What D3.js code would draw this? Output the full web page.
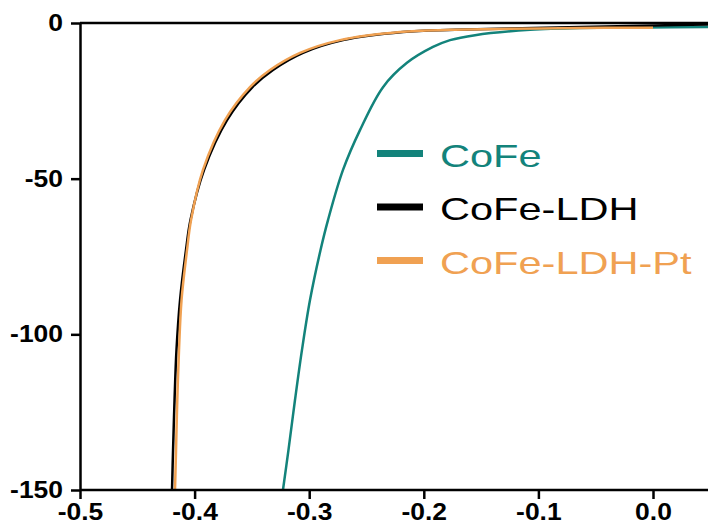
<!DOCTYPE html>
<meta charset="utf-8">
<style>
    body { margin: 0; background: #fff; }
    .axis path, .axis line { stroke: #000; stroke-width: 2.5px; }
    .axis text { font: bold 23px "Liberation Sans", Arial, sans-serif; fill: #000; }
    .line { fill: none; stroke-width: 2.5px; }
    .legend text { font: 31px "Liberation Sans", Arial, sans-serif; }
</style>
<svg width="708" height="530"></svg>
<script src="https://cdn.jsdelivr.net/npm/d3@7/dist/d3.min.js"></script>
<script>

    // potential (V) and current density
    var cofeV = [-0.3229, -0.3181, -0.3124, -0.3063, -0.2993, -0.2901, -0.2836, -0.2705, -0.2557, -0.2356, -0.2147, -0.1920, -0.1771, -0.1553, -0.1073, -0.0637, -0.0052, 0.048];
    var cofeJ = [-150, -137.2, -121.1, -105, -89, -72.9, -63.3, -47.2, -34.4, -20.6, -12.8, -7.7, -5.5, -3.9, -2.2, -1.6, -1.45, -1.3];

    var ldhV = [-0.4197, -0.4188, -0.4175, -0.4158, -0.4127, -0.4075, -0.4036, -0.3918, -0.3717, -0.3495, -0.3316, -0.3054, -0.2705, -0.2182, -0.1728, -0.0637, 0.0017, 0.048];
    var ldhJ = [-150, -137.2, -121.1, -105, -89, -72.9, -63.3, -47.2, -31.2, -20.6, -15.1, -9.6, -5.5, -2.9, -2.2, -1.3, -0.8, -0.5];

    var ptV = [-0.4171, -0.4162, -0.4151, -0.4136, -0.4114, -0.4066, -0.4031, -0.3927, -0.3735, -0.3517, -0.3342, -0.3080, -0.2731, -0.2208, -0.1771, -0.0637, 0.0];
    var ptJ = [-150, -137.2, -121.1, -105, -89, -72.9, -63.3, -47.2, -31.2, -20.6, -15.1, -9.6, -5.5, -2.9, -2.2, -1.6, -1.5];

    var seriesNames = ["CoFe", "CoFe-LDH", "CoFe-LDH-Pt"];
    var seriesColors = ["#13837b", "#000000", "#f0a152"];

    var xTicks = [-0.5, -0.4, -0.3, -0.2, -0.1, 0.0];
    var xMinor = [-0.45, -0.35, -0.25, -0.15, -0.05];
    var yTicks = [0, -50, -100, -150];
    var yMinor = [-25, -75, -125];

    var svg = d3.select("svg"),
        stretch = 1.15;

    var x = d3.scaleLinear().domain([-0.5, 0.0]).range([80, 653]),
        y = d3.scaleLinear().domain([-150, 0]).range([490, 23]);

    var series = [
        {name: seriesNames[0], color: seriesColors[0], values: cofeV.map(function(v, i) { return {v: v, j: cofeJ[i]}; })},
        {name: seriesNames[1], color: seriesColors[1], values: ldhV.map(function(v, i) { return {v: v, j: ldhJ[i]}; })},
        {name: seriesNames[2], color: seriesColors[2], values: ptV.map(function(v, i) { return {v: v, j: ptJ[i]}; })}
    ];

    svg.append("clipPath").attr("id", "plot")
        .append("rect").attr("x", 80).attr("y", 23).attr("width", 628).attr("height", 467);

    var line = d3.line()
        .curve(d3.curveCatmullRom.alpha(0.5))
        .x(function(d) { return x(d.v); })
        .y(function(d) { return y(d.j); });

    svg.append("g").attr("clip-path", "url(#plot)")
        .selectAll("path")
        .data(series)
        .enter().append("path")
        .attr("class", "line")
        .attr("d", function(d) { return line(d.values); })
        .style("stroke", function(d) { return d.color; });

    // frame top
    svg.append("line")
        .attr("x1", 80).attr("x2", 708)
        .attr("y1", y(0)).attr("y2", y(0))
        .attr("stroke", "#000").attr("stroke-width", 2.5);

    // x axis
    var gx = svg.append("g")
        .attr("class", "axis")
        .attr("transform", "translate(0," + y(-150) + ")");
    gx.call(d3.axisBottom(x).tickValues(xMinor).tickSize(6).tickFormat(""));
    gx.call(d3.axisBottom(x).tickValues(xTicks).tickSize(9).tickSizeOuter(0).tickPadding(5));
    gx.select(".domain").attr("d", "M80,0H708");
    gx.selectAll("text")
        .text(function(d) { return d3.format(".1f")(d).replace("−", "-"); })
        .attr("transform", "scale(" + stretch + ",1)");

    // y axis
    var gy = svg.append("g")
        .attr("class", "axis")
        .attr("transform", "translate(" + x(-0.5) + ",0)");
    gy.call(d3.axisLeft(y).tickValues(yMinor).tickSize(5).tickFormat(""));
    gy.call(d3.axisLeft(y).tickValues(yTicks).tickSize(9).tickSizeOuter(0));
    gy.selectAll("text")
        .text(function(d) { return String(d); })
        .attr("x", -17 / stretch)
        .attr("transform", "scale(" + stretch + ",1)");

    // legend
    var legend = svg.append("g").attr("class", "legend")
        .selectAll("g")
        .data(series)
        .enter().append("g")
        .attr("transform", function(d, i) { return "translate(377," + (153.5 + i * 53.5) + ")"; });

    legend.append("line")
        .attr("x1", 0).attr("x2", 46)
        .attr("stroke", function(d) { return d.color; })
        .attr("stroke-width", 7);

    legend.append("text")
        .attr("transform", "translate(63,13) scale(1.34,1)")
        .style("fill", function(d) { return d.color; })
        .text(function(d) { return d.name; });

</script>
